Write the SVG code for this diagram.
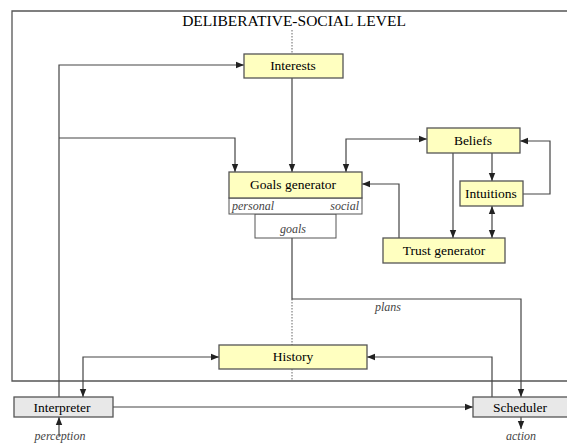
<svg xmlns="http://www.w3.org/2000/svg" width="567" height="443" viewBox="0 0 567 443">
<style>
.box{fill:#ffffc0;stroke:#555;stroke-width:1.3}
.gbox{fill:#e8e8e8;stroke:#555;stroke-width:1.3}
.wbox{fill:#fff;stroke:#555;stroke-width:1}
.t{font-family:"Liberation Serif",serif;font-size:13.5px;fill:#000;text-anchor:middle}
.i{font-family:"Liberation Serif",serif;font-size:12px;font-style:italic;fill:#444}
.ln{fill:none;stroke:#444;stroke-width:1.2}
.dot{fill:none;stroke:#666;stroke-width:1;stroke-dasharray:1.5,1.5}
</style>
<defs>
<marker id="a" viewBox="0 0 10 10" refX="10" refY="5" markerWidth="8" markerHeight="8" orient="auto-start-reverse" markerUnits="userSpaceOnUse">
<path d="M0,1 L10,5 L0,9 Z" fill="#222"/>
</marker>
</defs>
<rect x="0" y="0" width="567" height="443" fill="#fff"/>
<g id="frame">
<path d="M567,11 H12 V381 H567" fill="none" stroke="#555" stroke-width="1.3"/>
<text class="t" x="294" y="26" style="font-size:15.5px">DELIBERATIVE-SOCIAL LEVEL</text>
</g>
<g id="dotted">
<path class="dot" d="M292,30 V54 M292,198 V214 M292,299 V345 M292,369 V381"/>
</g>
<g id="connectors">
<path class="ln" d="M292,78 V172" marker-end="url(#a)"/>
<path class="ln" d="M59,397 V65 H244" marker-end="url(#a)"/>
<path class="ln" d="M59,138 H235 V172" marker-end="url(#a)"/>
<path class="ln" d="M427,139 H346 V172" marker-start="url(#a)" marker-end="url(#a)"/>
<path class="ln" d="M453,153 V238" marker-end="url(#a)"/>
<path class="ln" d="M492,153 V181" marker-end="url(#a)"/>
<path class="ln" d="M523,194 H550 V141 H520" marker-end="url(#a)"/>
<path class="ln" d="M492,206 V238" marker-start="url(#a)" marker-end="url(#a)"/>
<path class="ln" d="M399,238 V184 H362" marker-end="url(#a)"/>
<path class="ln" d="M292,238 V299 H521 V397" marker-end="url(#a)"/>
<path class="ln" d="M219,357 H83 V397" marker-start="url(#a)" marker-end="url(#a)"/>
<path class="ln" d="M492,397 V357 H367" marker-end="url(#a)"/>
<path class="ln" d="M113,407 H473" marker-end="url(#a)"/>
<path class="ln" d="M59,436 V417" marker-end="url(#a)"/>
<path class="ln" d="M521,416 V429" marker-end="url(#a)"/>
<text class="i" x="388" y="311" text-anchor="middle">plans</text>
<text class="i" x="60" y="440" text-anchor="middle">perception</text>
<text class="i" x="521" y="440" text-anchor="middle">action</text>
</g>
<g id="interests">
<rect class="box" x="244" y="54" width="99" height="24"/>
<text class="t" x="293" y="70">Interests</text>
</g>
<g id="goals-generator">
<rect class="wbox" x="255" y="214" width="81" height="24"/>
<text class="i" x="293" y="233" text-anchor="middle">goals</text>
<rect class="wbox" x="229" y="198" width="133" height="16"/>
<text class="i" x="232" y="210">personal</text>
<text class="i" x="359" y="210" text-anchor="end">social</text>
<rect class="box" x="229" y="172" width="133" height="26"/>
<text class="t" x="293" y="189">Goals generator</text>
</g>
<g id="beliefs">
<rect class="box" x="427" y="128" width="93" height="25"/>
<text class="t" x="473" y="145">Beliefs</text>
</g>
<g id="intuitions">
<rect class="box" x="460" y="181" width="63" height="25"/>
<text class="t" x="491" y="198">Intuitions</text>
</g>
<g id="trust-generator">
<rect class="box" x="383" y="238" width="122" height="25"/>
<text class="t" x="444" y="255">Trust generator</text>
</g>
<g id="history">
<rect class="box" x="219" y="345" width="148" height="24"/>
<text class="t" x="293" y="361">History</text>
</g>
<g id="interpreter">
<rect class="gbox" x="14" y="397" width="99" height="20"/>
<text class="t" x="62" y="412">Interpreter</text>
</g>
<g id="scheduler">
<rect class="gbox" x="473" y="397" width="100" height="20"/>
<text class="t" x="520" y="412">Scheduler</text>
</g>
</svg>
